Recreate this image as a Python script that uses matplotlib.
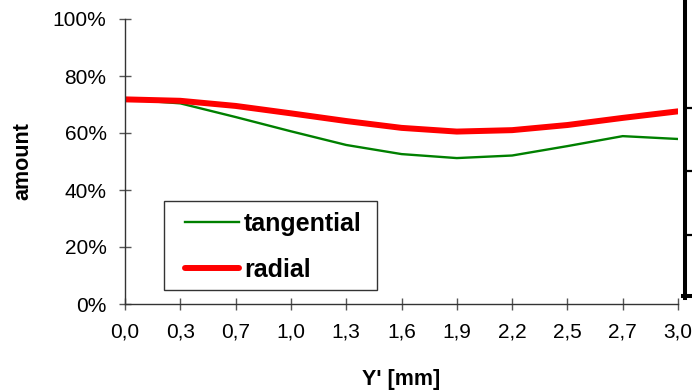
import matplotlib
matplotlib.use('Agg')
import matplotlib.pyplot as plt
from matplotlib.lines import Line2D
from matplotlib.patches import Rectangle

# values (percent)
positions = ['0,0', '0,3', '0,7', '1,0', '1,3', '1,6', '1,9', '2,2', '2,5', '2,7', '3,0']
tangential = [71.8, 70.4, 65.6, 60.6, 55.8, 52.6, 51.2, 52.1, 55.4, 58.9, 57.9]
radial = [71.8, 71.3, 69.5, 66.9, 64.2, 61.8, 60.5, 61.0, 62.8, 65.3, 67.6]
yticks = [0, 20, 40, 60, 80, 100]

plt.rcParams.update({'font.family': ['Liberation Sans', 'DejaVu Sans'],
                     'font.size': 15})

W, H = 692, 392
fig = plt.figure(figsize=(W / 100, H / 100), dpi=100)
ax = fig.add_axes([125 / W, 1 - 304 / H, 553 / W, 285 / H])

x = range(len(positions))
ax.plot(x, tangential, color='#008000', lw=1.7, label='tangential',
        solid_joinstyle='round')
ax.plot(x, radial, color='#ff0000', lw=4.3, label='radial',
        solid_capstyle='round', solid_joinstyle='round')

ax.set_xlim(0, len(positions) - 1)
ax.set_ylim(0, 100)
ax.set_xticks(list(x))
ax.set_xticklabels(positions)
ax.set_yticks(yticks)
ax.set_yticklabels([f'{v}%' for v in yticks])

for side in ('top', 'right'):
    ax.spines[side].set_visible(False)
for side in ('left', 'bottom'):
    ax.spines[side].set_color('#333333')
    ax.spines[side].set_linewidth(1.0)
ax.tick_params(direction='inout', length=8.6, width=1.0, color='#555555',
               labelsize=15)
ax.tick_params(axis='y', pad=9)
ax.tick_params(axis='x', pad=9)

ax.set_xlabel("Y' [mm]", fontsize=15.5, fontweight='bold', labelpad=20)
ax.set_ylabel('amount', fontsize=15.5, fontweight='bold', labelpad=14)

# legend box (frame drawn separately: wider side margins than top/bottom)
px_x = lambda px: (px - 125) / 553
px_y = lambda py: (304 - py) / 285
ax.add_patch(Rectangle((px_x(164), px_y(290)), px_x(377) - px_x(164),
                       px_y(201) - px_y(290), transform=ax.transAxes,
                       facecolor='white', edgecolor='#333333', lw=1.0, zorder=4))
leg = ax.legend(loc='upper left', bbox_to_anchor=(px_x(176), px_y(203)),
                frameon=False, prop={'weight': 'bold', 'size': 18},
                handlelength=2.15, handletextpad=0.2, labelspacing=0.88,
                borderpad=0.36, borderaxespad=0)
leg.set_zorder(5)

# edge of the clipped box at the right border
fx = lambda px: px / W
fy = lambda py: 1 - py / H
fig.add_artist(Line2D([fx(685), fx(685)], [fy(0), fy(298)], color='black', lw=2.9))
fig.add_artist(Line2D([fx(683), fx(692)], [fy(296), fy(296)], color='black', lw=2.9))
for py in (108, 171, 235):
    fig.add_artist(Line2D([fx(686), fx(692)], [fy(py), fy(py)], color='black', lw=1.6))

fig.savefig('out.png', dpi=100)
